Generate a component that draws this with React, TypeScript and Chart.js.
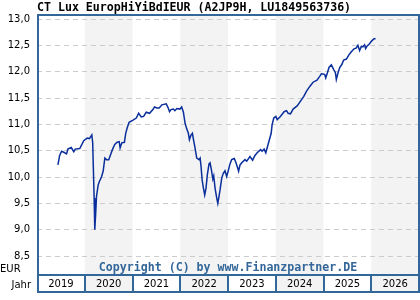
import React, { useEffect, useRef } from "react";
import { Chart, registerables } from "chart.js";

Chart.register(...registerables);

const TITLE = "CT Lux EuropHiYiBdIEUR (A2JP9H, LU1849563736)";
const COPYRIGHT = "Copyright (C) by www.Finanzpartner.DE";
const UNIT_LABEL = "EUR";
const YEAR_AXIS_LABEL = "Jahr";

const YEARS = [2019, 2020, 2021, 2022, 2023, 2024, 2025, 2026];
const SHADED_YEARS = [2020, 2022, 2024, 2026];
const Y_TICKS = [8.5, 9.0, 9.5, 10.0, 10.5, 11.0, 11.5, 12.0, 12.5, 13.0];
const Y_MIN = 8.14;
const Y_MAX = 13.095;

const DATES = [
  "2019-06-10", "2019-06-23", "2019-07-08", "2019-07-25", "2019-08-15", "2019-08-25", "2019-09-20", "2019-10-09",
  "2019-10-20", "2019-11-24", "2019-12-12", "2019-12-24", "2020-01-20", "2020-02-06", "2020-02-24", "2020-03-02",
  "2020-03-05", "2020-03-13", "2020-03-18", "2020-03-25", "2020-03-31", "2020-04-13", "2020-04-23", "2020-05-08",
  "2020-05-21", "2020-06-03", "2020-06-15", "2020-07-03", "2020-07-16", "2020-07-31", "2020-08-18", "2020-09-05",
  "2020-09-21", "2020-09-28", "2020-10-11", "2020-10-31", "2020-11-10", "2020-11-21", "2020-12-06", "2021-01-05",
  "2021-01-30", "2021-02-17", "2021-03-09", "2021-03-27", "2021-04-16", "2021-05-11", "2021-06-06", "2021-06-18",
  "2021-07-07", "2021-07-24", "2021-08-14", "2021-09-16", "2021-10-01", "2021-10-11", "2021-10-22", "2021-11-10",
  "2021-11-21", "2021-12-06", "2021-12-29", "2022-01-12", "2022-01-25", "2022-02-07", "2022-02-20", "2022-03-04",
  "2022-03-12", "2022-03-23", "2022-04-04", "2022-04-12", "2022-04-22", "2022-05-07", "2022-05-25", "2022-06-02",
  "2022-06-09", "2022-06-17", "2022-06-27", "2022-07-07", "2022-07-17", "2022-07-27", "2022-08-09", "2022-08-17",
  "2022-08-27", "2022-09-07", "2022-09-14", "2022-09-24", "2022-10-07", "2022-10-15", "2022-10-22", "2022-11-01",
  "2022-11-14", "2022-11-26", "2022-12-09", "2022-12-22", "2023-01-03", "2023-01-16", "2023-01-29", "2023-02-18",
  "2023-03-03", "2023-03-16", "2023-03-23", "2023-04-03", "2023-04-16", "2023-05-11", "2023-05-24", "2023-06-18",
  "2023-07-08", "2023-07-26", "2023-08-12", "2023-09-07", "2023-09-19", "2023-10-04", "2023-10-17", "2023-10-27",
  "2023-11-07", "2023-11-17", "2023-11-27", "2023-12-04", "2023-12-17", "2024-01-02", "2024-01-12", "2024-02-02",
  "2024-02-22", "2024-03-05", "2024-03-24", "2024-04-05", "2024-04-23", "2024-05-13", "2024-06-13", "2024-07-09",
  "2024-08-03", "2024-08-24", "2024-09-18", "2024-10-13", "2024-11-12", "2024-12-03", "2024-12-16", "2025-01-10",
  "2025-01-18", "2025-01-31", "2025-02-12", "2025-03-02", "2025-03-20", "2025-04-02", "2025-04-09", "2025-04-22",
  "2025-05-05", "2025-05-22", "2025-06-04", "2025-06-25", "2025-07-14", "2025-08-02", "2025-08-20", "2025-09-09",
  "2025-09-21", "2025-10-04", "2025-10-17", "2025-10-29", "2025-11-11", "2025-11-19", "2025-12-01", "2025-12-19",
  "2026-01-03", "2026-01-21", "2026-02-03",
];

const PRICES = [
  10.23, 10.41, 10.49, 10.47, 10.44, 10.53, 10.56, 10.48,
  10.53, 10.54, 10.63, 10.69, 10.74, 10.73, 10.80, 10.65,
  10.35, 9.60, 9.00, 9.32, 9.63, 9.85, 9.92, 10.00,
  10.11, 10.36, 10.33, 10.33, 10.42, 10.52, 10.62, 10.66,
  10.67, 10.55, 10.65, 10.66, 10.83, 10.93, 11.04, 11.08,
  11.12, 11.21, 11.14, 11.15, 11.23, 11.21, 11.28, 11.33,
  11.31, 11.31, 11.37, 11.39, 11.31, 11.24, 11.28, 11.29,
  11.26, 11.30, 11.29, 11.33, 11.23, 11.02, 10.91, 10.83,
  10.71, 10.79, 10.83, 10.71, 10.58, 10.36, 10.33, 10.36,
  10.20, 9.95, 9.79, 9.66, 9.79, 10.04, 10.25, 10.27,
  10.14, 9.96, 10.02, 9.79, 9.60, 9.50, 9.60, 9.75,
  9.98, 10.07, 10.12, 10.01, 10.12, 10.25, 10.33, 10.35,
  10.27, 10.17, 10.11, 10.23, 10.27, 10.33, 10.30, 10.39,
  10.32, 10.41, 10.46, 10.52, 10.49, 10.53, 10.46, 10.55,
  10.65, 10.74, 10.83, 10.99, 11.12, 11.15, 11.09, 11.14,
  11.20, 11.24, 11.26, 11.21, 11.20, 11.29, 11.35, 11.44,
  11.53, 11.63, 11.72, 11.80, 11.84, 11.91, 11.96, 11.95,
  11.88, 11.98, 12.08, 12.13, 12.04, 11.98, 11.85, 11.98,
  12.08, 12.14, 12.22, 12.24, 12.32, 12.38, 12.43, 12.45,
  12.50, 12.40, 12.48, 12.47, 12.51, 12.44, 12.49, 12.53,
  12.58, 12.62, 12.63,
];

const LINE_COLOR = "#0a2f9c";
const FRAME_COLOR = "#336699";
const BAND_COLOR = "#f3f3f3";
const GRID_COLOR = "#cccccc";
const MONO_BOLD = 'bold 11.6px "DejaVu Sans Mono", "Liberation Mono", monospace';
const SANS = '"DejaVu Sans", Verdana, sans-serif';

function toYearFraction(d: string): number {
  const [y, m, day] = d.split("-").map(Number);
  const start = Date.UTC(y, 0, 1);
  const end = Date.UTC(y + 1, 0, 1);
  return y + (Date.UTC(y, m - 1, day) - start) / (end - start);
}

const framePlugin = {
  id: "finanzFrame",
  beforeDraw(chart: any) {
    const { ctx, chartArea, scales } = chart;
    const xs = scales.x;
    const rowBottom = xs.bottom;
    ctx.save();
    ctx.fillStyle = BAND_COLOR;
    SHADED_YEARS.forEach((yr) => {
      const x0 = xs.getPixelForValue(yr);
      const x1 = Math.min(xs.getPixelForValue(yr + 1), chartArea.right);
      ctx.fillRect(x0, chartArea.top, x1 - x0, rowBottom - chartArea.top);
    });
    ctx.restore();
  },
  afterDraw(chart: any) {
    const { ctx, chartArea, scales } = chart;
    const xs = scales.x;
    const L = chartArea.left;
    const R = chartArea.right;
    const T = chartArea.top;
    const B = chartArea.bottom;
    const RB = xs.bottom;
    ctx.save();
    ctx.fillStyle = FRAME_COLOR;
    ctx.fillRect(L, T, 2, RB - T + 1);
    ctx.fillRect(R - 1, T, 2, RB - T + 1);
    ctx.fillRect(L, T, R - L + 1, 2);
    ctx.fillRect(L, B - 1, R - L + 1, 2);
    ctx.fillRect(L, RB - 1, R - L + 1, 2);
    YEARS.slice(1).forEach((yr) => {
      const px = Math.round(xs.getPixelForValue(yr));
      ctx.fillRect(px - 1, B, 2, RB - B);
    });

    ctx.font = MONO_BOLD;
    ctx.fillStyle = FRAME_COLOR;
    ctx.textAlign = "center";
    ctx.textBaseline = "alphabetic";
    ctx.fillText(COPYRIGHT, (L + R) / 2, B - 4);

    ctx.fillStyle = "#000";
    ctx.font = `10px ${SANS}`;
    ctx.textAlign = "left";
    ctx.fillText(UNIT_LABEL, 0, B - 3);
    ctx.textAlign = "right";
    ctx.fillText(YEAR_AXIS_LABEL, 31, RB - 4);
    ctx.restore();
  },
};

export default function App() {
  const canvasRef = useRef<HTMLCanvasElement | null>(null);

  useEffect(() => {
    if (!canvasRef.current) return;
    const points = DATES.map((d, i) => ({ x: toYearFraction(d), y: PRICES[i] }));
    const chart = new Chart(canvasRef.current, {
      type: "line",
      data: {
        datasets: [
          {
            data: points,
            borderColor: LINE_COLOR,
            borderWidth: 1.5,
            pointRadius: 0,
            tension: 0,
            fill: false,
          },
        ],
      },
      options: {
        responsive: false,
        animation: false,
        devicePixelRatio: 1,
        layout: { padding: { left: 0, right: 1, top: 0, bottom: 8 } },
        plugins: {
          legend: { display: false },
          tooltip: { enabled: false },
          title: {
            display: true,
            text: TITLE,
            align: "start",
            fullSize: false,
            color: "#000",
            font: { family: '"DejaVu Sans Mono", "Liberation Mono", monospace', size: 11.6, weight: "bold", lineHeight: 0.75 },
            padding: { top: 4, bottom: 1.3 },
          },
        },
        scales: {
          x: {
            type: "linear",
            min: YEARS[0],
            max: YEARS[YEARS.length - 1] + 1,
            afterFit: (s: any) => {
              s.height = 17;
            },
            afterBuildTicks: (s: any) => {
              s.ticks = YEARS.map((y) => ({ value: y + 0.5 }));
            },
            grid: { display: false, drawTicks: false },
            border: { display: false },
            ticks: {
              autoSkip: false,
              maxRotation: 0,
              padding: 3,
              color: "#000",
              font: { family: SANS, size: 10 },
              callback: (_v: any, i: number) => String(YEARS[i]),
            },
          },
          y: {
            type: "linear",
            min: Y_MIN,
            max: Y_MAX,
            afterFit: (s: any) => {
              s.width = 37;
            },
            afterBuildTicks: (s: any) => {
              s.ticks = Y_TICKS.map((v) => ({ value: v }));
            },
            grid: { color: GRID_COLOR, drawTicks: false, lineWidth: 1 },
            border: { display: false, dash: [5, 4] },
            ticks: {
              padding: 7,
              color: "#000",
              font: { family: SANS, size: 10 },
              callback: (v: any) => Number(v).toFixed(1).replace(".", ","),
            },
          },
        },
      },
      plugins: [framePlugin],
    });
    return () => chart.destroy();
  }, []);

  return (
    <div style={{ position: "absolute", left: 0, top: 0, width: 420, height: 300, background: "#fff" }}>
      <canvas ref={canvasRef} width={420} height={300} style={{ display: "block", width: 420, height: 300 }} />
    </div>
  );
}
